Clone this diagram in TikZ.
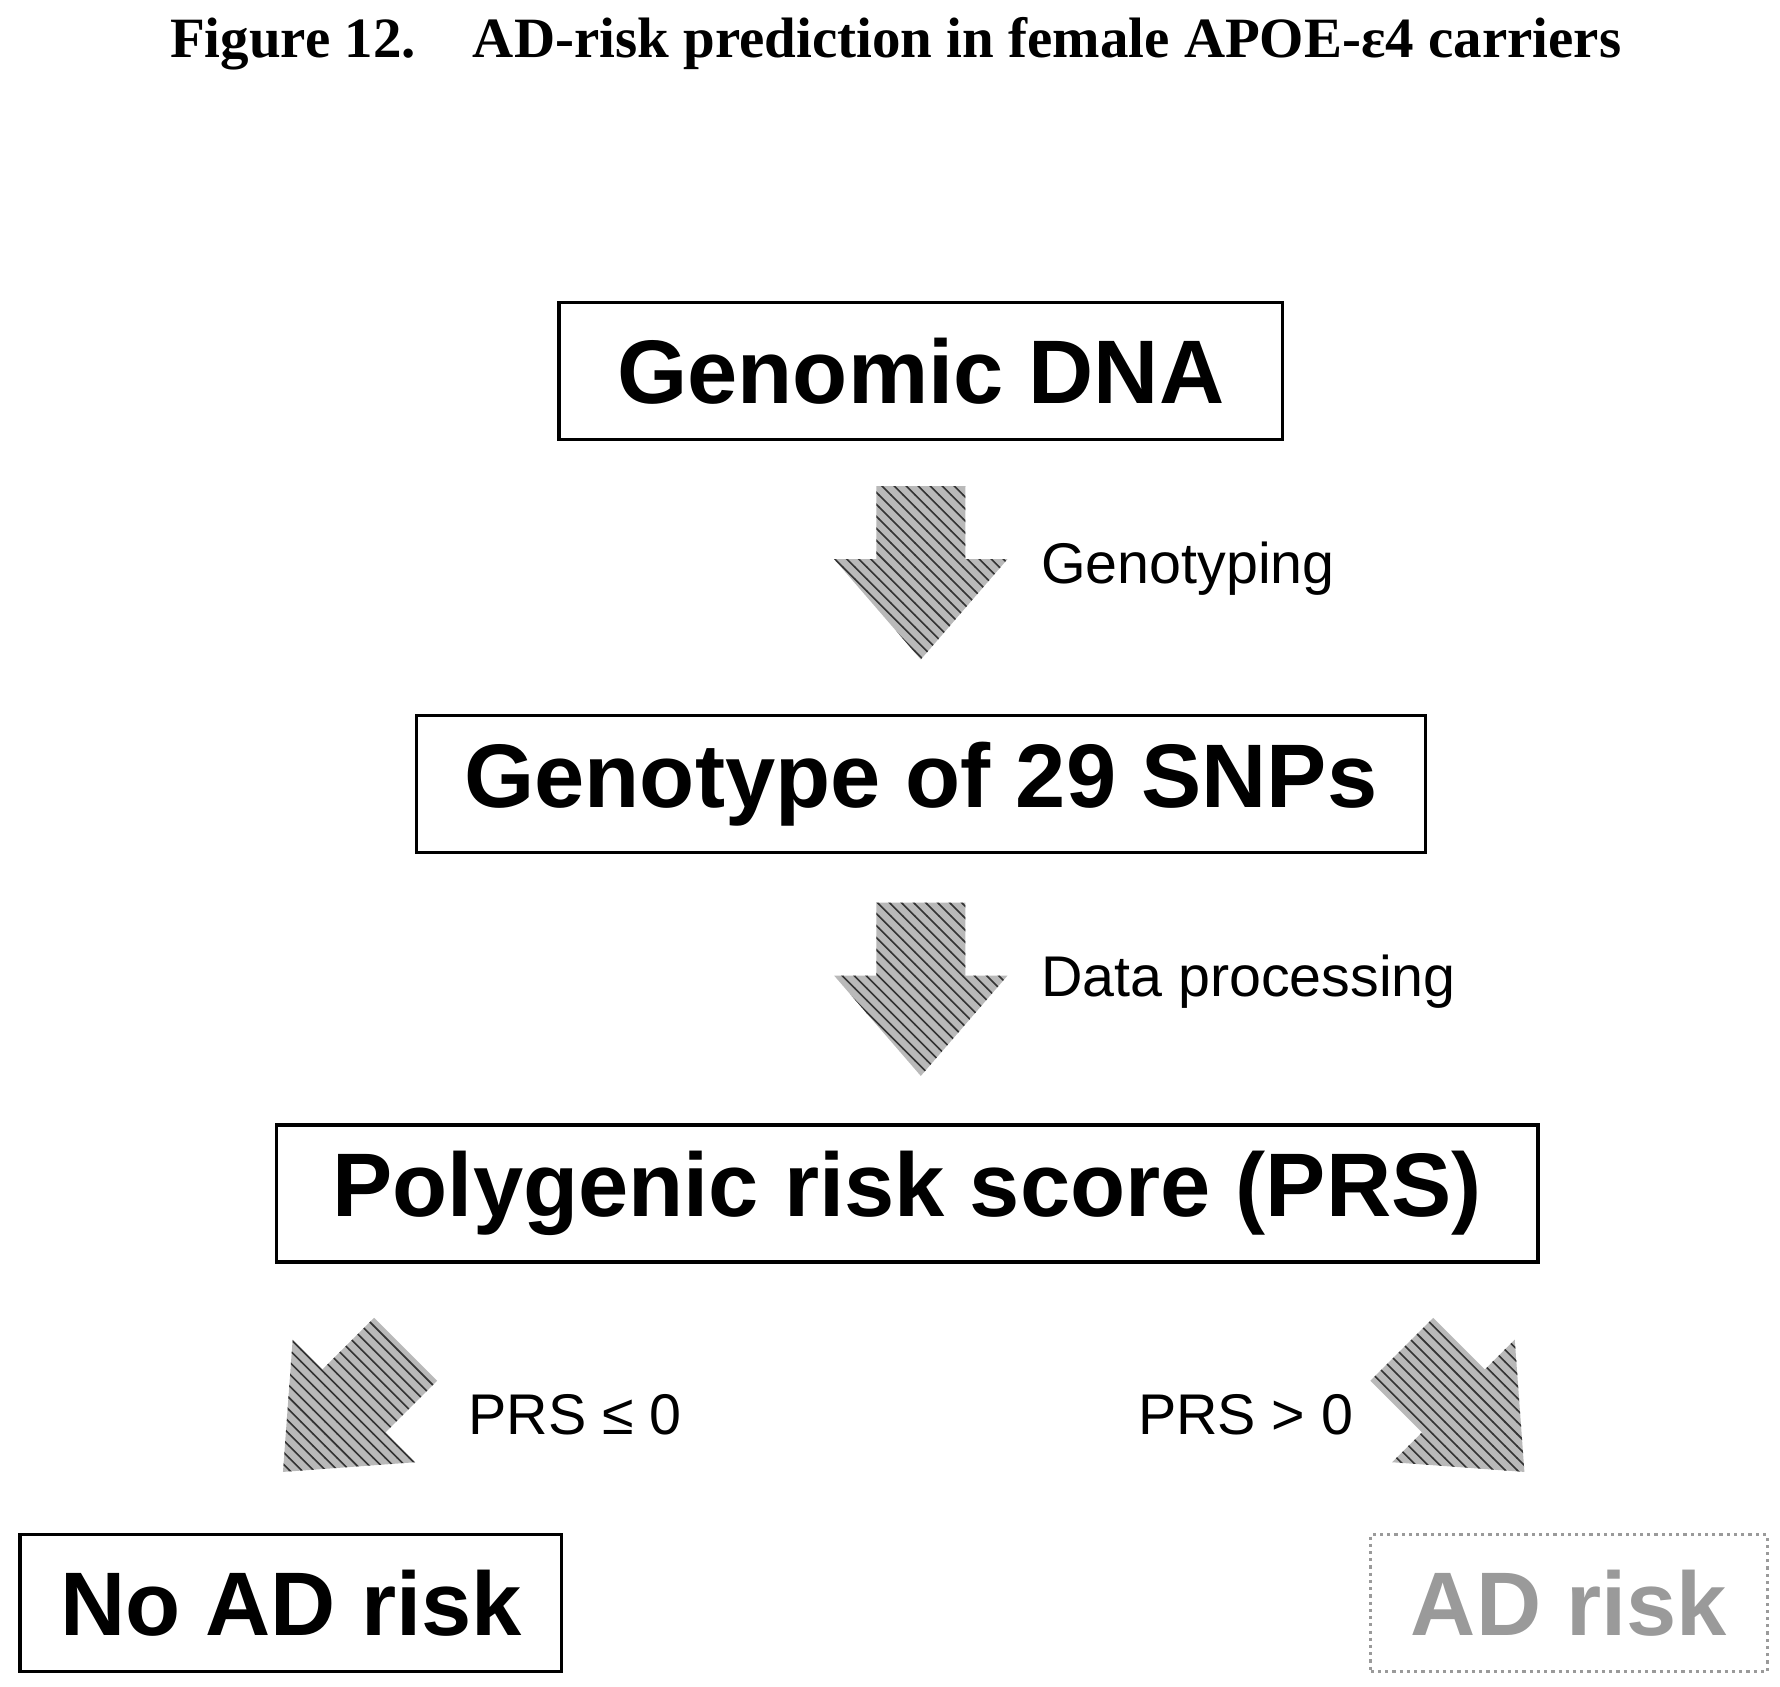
\documentclass[tikz,border=0pt]{standalone}
\usepackage{fontspec}
\setmainfont{Liberation Sans}
\newfontfamily\titlefont{Liberation Serif}
\usetikzlibrary{positioning, patterns}
\definecolor{HatchGray}{HTML}{333333}
\definecolor{FadedGray}{HTML}{9A9A9A}
\newcommand{\stepArrow}[2]{% tip position, rotation
  \fill[preaction={fill=gray!55}, pattern=north west lines, pattern color=HatchGray, shift={#1}, rotate=#2]
    (0,0) -- (76,88) -- (39,88) -- (39,152) -- (-39,152) -- (-39,88) -- (-76,88) -- cycle;}
\begin{document}
\begin{tikzpicture}[x=0.01cm, y=0.01cm,
    stepbox/.style={draw, thick, font=\fontsize{22.5}{27}\selectfont\bfseries, inner xsep=10pt, minimum height=1.2cm},
    steplabel/.style={font=\fontsize{14.3}{17}\selectfont, anchor=west}]
  \useasboundingbox (0,0) rectangle (1560,1478);
  % Title
  \node[font=\titlefont\fontsize{14.2}{17}\selectfont\bfseries] (title) at (785,1440)
    {Figure 12.\quad AD-risk prediction in female APOE-ε4 carriers};
  % Boxes
  \node[stepbox, minimum width=6.34cm] (dna) at (807,1153) {Genomic DNA};
  \node[stepbox, minimum width=8.84cm] (geno) at (807,791) {Genotype of 29 SNPs};
  \node[stepbox, minimum width=11.05cm] (prs) at (795,432) {Polygenic risk score (PRS)};
  \node[stepbox, minimum width=4.72cm] (noad) at (255,73) {No AD risk};
  \node[stepbox, minimum width=3.46cm, densely dotted, draw=FadedGray, text=FadedGray] (ad) at (1375,73) {AD risk};
  % Arrows
  \stepArrow{(807,900)}{0}
  \stepArrow{(807,535)}{0}
  \stepArrow{(248,188)}{-45}
  \stepArrow{(1336,188)}{45}
  % Labels
  \node[steplabel] (lgeno) at (900,980) {Genotyping};
  \node[steplabel] (lproc) at (900,618) {Data processing};
  \node[steplabel] (lle) at (398,238) {PRS ≤ 0};
  \node[steplabel] (lgt) at (985,238) {PRS > 0};
\end{tikzpicture}
\end{document}
